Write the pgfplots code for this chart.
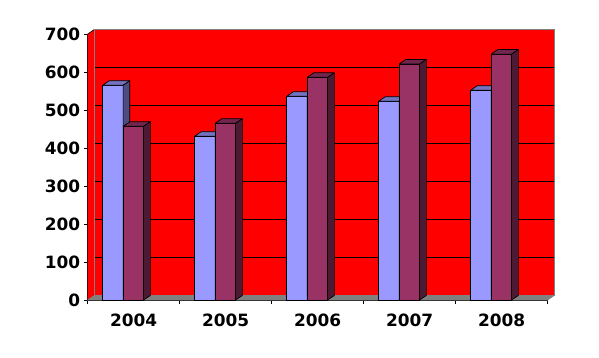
\documentclass[border=0pt]{standalone}
\usepackage{pgfplots}
\pgfplotsset{compat=1.18}
\usepackage{fontspec}
\setmainfont{DejaVu Sans}
\definecolor{sA}{HTML}{9999FF}
\definecolor{sAtop}{HTML}{7373BF}
\definecolor{sAside}{HTML}{4D4D80}
\definecolor{sB}{HTML}{993366}
\definecolor{sBtop}{HTML}{73264D}
\definecolor{sBside}{HTML}{4D1A33}
\definecolor{wallgray}{HTML}{808080}
\def\bw{0.223}\def\dx{0.073}\def\dy{12}
\newcommand\faces[3]{%
  \pgfmathsetmacro\xA{#1}%
  \pgfmathsetmacro\xB{#1+\bw}%
  \pgfmathsetmacro\xC{#1+\bw+\dx}%
  \pgfmathsetmacro\xD{#1+\dx}%
  \pgfmathsetmacro\yT{#2+\dy}%
  \edef\doit{%
    \noexpand\addplot[fill=#3top,draw=black,line width=0.7pt,line join=round] coordinates {(\xA,#2) (\xB,#2) (\xC,\yT) (\xD,\yT)} -- cycle;
    \noexpand\addplot[fill=#3side,draw=black,line width=0.7pt,line join=round] coordinates {(\xB,0) (\xB,#2) (\xC,\yT) (\xC,\dy)} -- cycle;}%
  \doit}
\begin{document}
\begin{tikzpicture}
\begin{axis}[
  scale only axis, width=460bp, height=266bp,
  xmin=-0.5, xmax=4.5, ymin=0, ymax=700,
  clip=false,
  axis x line*=bottom, axis y line*=left,
  axis line style={black, line width=0.8pt, -},
  tick align=outside, major tick length=4bp,
  tick style={black, line width=0.8pt},
  xtick={-0.5,0.5,1.5,2.5,3.5,4.5}, xticklabels={,,,,,},
  extra x ticks={0,1,2,3,4},
  extra x tick labels={2004,2005,2006,2007,2008},
  extra x tick style={major tick length=0pt},
  ytick={0,100,200,300,400,500,600,700},
  /pgf/number format/assume math mode=true,
  tick label style={font=\fontsize{17}{20}\selectfont\bfseries, text=black},
  xticklabel style={anchor=north, yshift=-10bp},
  yticklabel style={anchor=east, xshift=0bp},
]
% back wall
\addplot[fill=red, draw=wallgray, line width=0.8pt] coordinates {(-0.427,12) (4.573,12) (4.573,712) (-0.427,712)} -- cycle;
% left side wall
\addplot[fill=red, draw=none] coordinates {(-0.5,0) (-0.427,12) (-0.427,712) (-0.5,700)} -- cycle;
\addplot[black, line width=0.6pt] coordinates {(-0.5,700) (-0.427,712)};
% gridlines
\addplot[black, line width=0.7pt] coordinates {(-0.427,112) (4.573,112)};
\addplot[black, line width=0.7pt] coordinates {(-0.427,212) (4.573,212)};
\addplot[black, line width=0.7pt] coordinates {(-0.427,312) (4.573,312)};
\addplot[black, line width=0.7pt] coordinates {(-0.427,412) (4.573,412)};
\addplot[black, line width=0.7pt] coordinates {(-0.427,512) (4.573,512)};
\addplot[black, line width=0.7pt] coordinates {(-0.427,612) (4.573,612)};
\addplot[wallgray, line width=0.8pt] coordinates {(-0.427,12) (-0.427,712)};
% floor
\addplot[fill=wallgray, draw=wallgray, line width=0.5pt] coordinates {(-0.5,0) (4.5,0) (4.573,12) (-0.427,12)} -- cycle;
% series 1
\addplot[ybar, bar width=0.223, bar shift=0pt, fill=sA, draw=black, line width=0.7pt]
  coordinates {(-0.2265,565) (0.7735,431) (1.7735,536) (2.7735,523) (3.7735,552)};
\faces{-0.338}{565}{sA}
\faces{0.662}{431}{sA}
\faces{1.662}{536}{sA}
\faces{2.662}{523}{sA}
\faces{3.662}{552}{sA}
% series 2
\addplot[ybar, bar width=0.223, bar shift=0pt, fill=sB, draw=black, line width=0.7pt]
  coordinates {(-0.0035,457) (0.9965,465) (1.9965,586) (2.9965,621) (3.9965,647)};
\faces{-0.115}{457}{sB}
\faces{0.885}{465}{sB}
\faces{1.885}{586}{sB}
\faces{2.885}{621}{sB}
\faces{3.885}{647}{sB}
\coordinate (O) at (axis cs:-0.5,0);
\end{axis}
\pgfresetboundingbox
\path (O) ++(-87.7bp,-58bp) rectangle ++(599bp,358bp);
\end{tikzpicture}
\end{document}
